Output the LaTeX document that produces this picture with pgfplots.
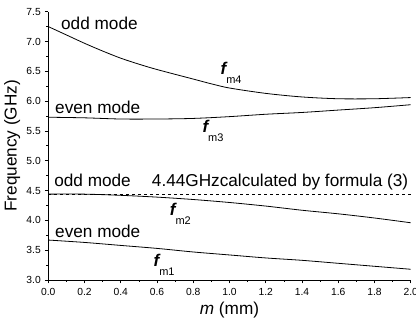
\documentclass[border=0pt]{standalone}
\usepackage{pgfplots}
\pgfplotsset{compat=1.18}
\usepackage{fontspec}
\setmainfont{Liberation Sans}
\newcommand{\bigf}{\fontsize{17.2}{18}\selectfont}
\newcommand{\fm}[1]{{\fontsize{17}{18}\selectfont\bfseries\itshape f}\raisebox{-9pt}{\fontsize{11}{11}\selectfont m#1}}
\begin{document}
\begin{tikzpicture}
\useasboundingbox (-48.3pt,-44pt) rectangle (367.7pt,280pt);
\begin{axis}[
  at={(0,0)}, anchor=south west,
  scale only axis, width=362.4pt, height=268.3pt,
  xmin=0, xmax=2, ymin=3, ymax=7.5,
  axis x line*=bottom, axis y line*=left,
  axis line style={line width=0.9pt},
  tick align=outside,
  major tick length=3.5pt, minor tick length=2pt,
  every tick/.style={black, line width=0.7pt},
  xtick={0,0.2,...,2.01}, ytick={3,3.5,...,7.51},
  minor x tick num=1, minor y tick num=1,
  tick label style={font=\fontsize{10.3}{11}\selectfont},
  /pgf/number format/assume math mode=true,
  /pgf/number format/.cd, fixed, fixed zerofill, precision=1, /pgfplots/.cd,
  xticklabel style={yshift=-1.5pt},
  yticklabel style={xshift=-0.5pt},
  xlabel={\textit{m} (mm)},
  ylabel={Frequency (GHz)},
  xlabel style={font=\bigf, at={(axis description cs:0.5,-0.1304)}, anchor=base},
  ylabel style={font=\bigf, at={(axis description cs:-0.0877,0.5)}, anchor=base},
  clip=false,
]
% f_m4
\addplot[black, line width=0.8pt, smooth] coordinates {
(0,7.25) (0.1,7.11) (0.2,6.97) (0.3,6.84) (0.4,6.72) (0.5,6.62) (0.6,6.53)
(0.8,6.37) (0.9,6.29) (1.0,6.22) (1.2,6.13) (1.4,6.07) (1.6,6.04) (1.8,6.04) (2.0,6.06)};
% f_m3
\addplot[black, line width=0.8pt, smooth] coordinates {
(0,5.73) (0.2,5.72) (0.4,5.70) (0.6,5.70) (0.8,5.71) (1.0,5.74) (1.2,5.78)
(1.4,5.81) (1.6,5.85) (1.8,5.89) (2.0,5.94)};
% f_m2
\addplot[black, line width=0.8pt, smooth] coordinates {
(0,4.44) (0.2,4.44) (0.4,4.42) (0.6,4.39) (0.8,4.35) (1.0,4.30) (1.2,4.24)
(1.4,4.17) (1.6,4.11) (1.8,4.04) (2.0,3.96)};
% f_m1
\addplot[black, line width=0.8pt, smooth] coordinates {
(0,3.67) (0.2,3.63) (0.4,3.58) (0.6,3.53) (0.8,3.47) (1.0,3.42) (1.2,3.37)
(1.4,3.33) (1.6,3.28) (1.8,3.23) (2.0,3.18)};
% formula line
\addplot[black, line width=0.7pt, dashed] coordinates {(0,4.44) (2.0,4.44)};
\node[anchor=base west, inner sep=0pt, font=\bigf] at (axis cs:0.07,7.20) {odd mode};
\node[anchor=base west, inner sep=0pt, font=\bigf] at (axis cs:0.037,5.80) {even mode};
\node[anchor=base west, inner sep=0pt, font=\bigf] at (axis cs:0.032,4.56) {odd mode};
\node[anchor=base west, inner sep=0pt, font=\bigf] at (axis cs:0.037,3.71) {even mode};
\node[anchor=base west, inner sep=0pt, font=\bigf] at (axis cs:0.571,4.56) {4.44GHzcalculated by formula (3)};
\node[anchor=base west, inner sep=0pt] at (axis cs:0.95,6.44) {\fm{4}};
\node[anchor=base west, inner sep=0pt] at (axis cs:0.85,5.48) {\fm{3}};
\node[anchor=base west, inner sep=0pt] at (axis cs:0.67,4.09) {\fm{2}};
\node[anchor=base west, inner sep=0pt] at (axis cs:0.58,3.22) {\fm{1}};
\end{axis}
\end{tikzpicture}
\end{document}
